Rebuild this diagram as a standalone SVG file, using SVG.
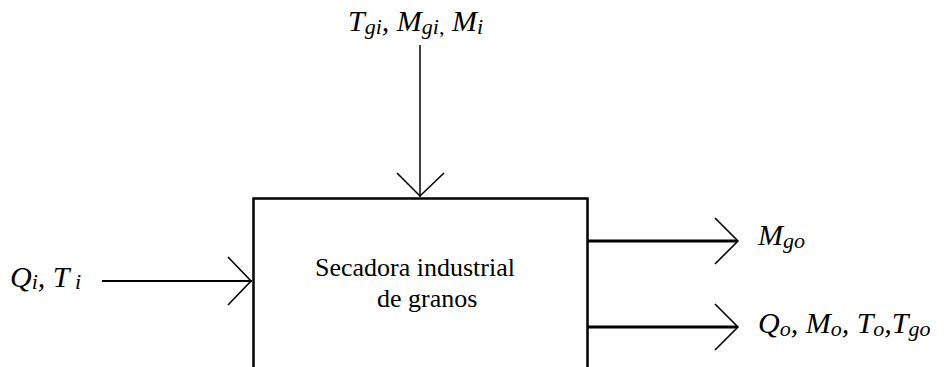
<svg xmlns="http://www.w3.org/2000/svg" width="948" height="367" viewBox="0 0 948 367">
<style>
.tx{font-family:'Liberation Serif','Times New Roman',serif;fill:#000}
.it{font-style:italic;font-size:30px}
.sb{font-size:22px}
.bx{font-size:26px}
.ln{stroke:#000;fill:none}
.hd{stroke:#000;fill:none;stroke-width:1.6}
</style>
<rect width="948" height="367" fill="#fff"/>
<g id="dryer">
<path class="ln" stroke-width="2.5" d="M253.5,372 V198.5 H587.5 V372"/>
<text class="tx bx" style="font-family:'Liberation Serif',serif !important" font-family="Liberation Serif" x="315" y="276">Secadora industrial</text>
<text class="tx bx" style="font-family:'Liberation Serif',serif !important" font-family="Liberation Serif" x="377" y="307">de granos</text>
</g>
<g id="in-top">
<text class="tx it" style="font-family:'Liberation Serif',serif !important" font-family="Liberation Serif" x="348" y="31">T<tspan class="sb" dy="3">gi</tspan><tspan dy="-3">, M</tspan><tspan class="sb" dy="3">gi,</tspan><tspan dy="-3"> M</tspan><tspan class="sb" dy="3">i</tspan></text>
</g>
<g id="in-left">
<text class="tx it" style="font-family:'Liberation Serif',serif !important" font-family="Liberation Serif" x="10" y="287">Q<tspan class="sb" dy="2">i</tspan><tspan dy="-2">, T</tspan><tspan class="sb" dy="2"> i</tspan></text>
</g>
<g id="out-1">
<text class="tx it" style="font-family:'Liberation Serif',serif !important" font-family="Liberation Serif" x="758" y="245">M<tspan class="sb" dy="3">go</tspan></text>
</g>
<g id="out-2">
<text class="tx it" style="font-family:'Liberation Serif',serif !important" font-family="Liberation Serif" x="758" y="333">Q<tspan class="sb" dy="3">o</tspan><tspan dy="-3">, M</tspan><tspan class="sb" dy="3">o</tspan><tspan dy="-3">, T</tspan><tspan class="sb" dy="3">o</tspan><tspan dy="-3">,T</tspan><tspan class="sb" dy="3">go</tspan></text>
</g>
<g id="connectors">
<line class="ln" stroke-width="1.5" x1="420" y1="45" x2="420" y2="197"/>
<polyline class="hd" points="397,173 420,196 444,173"/>
<line class="ln" stroke-width="2" x1="102" y1="281" x2="252" y2="281"/>
<polyline class="hd" points="228,257 251,281 228,305"/>
<line class="ln" stroke-width="3" x1="588" y1="241" x2="737" y2="241"/>
<polyline class="hd" points="715,218 738,241 715,264"/>
<line class="ln" stroke-width="3" x1="588" y1="327" x2="737" y2="327"/>
<polyline class="hd" points="715,304 738,327 715,350"/>
</g>
</svg>
